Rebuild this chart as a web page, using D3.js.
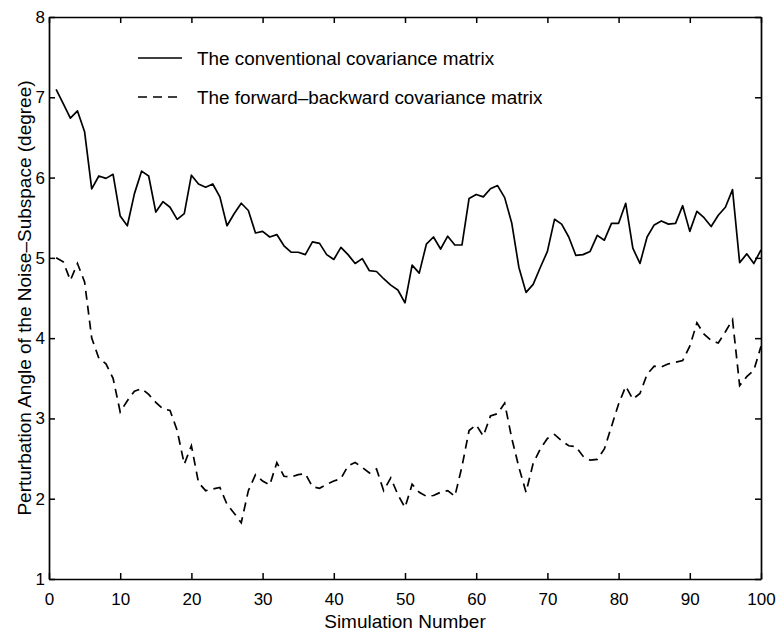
<!DOCTYPE html>
<html>
<head>
<meta charset="utf-8">
<script src="https://cdn.jsdelivr.net/npm/d3@7/dist/d3.min.js"></script>
<style>
  html, body { margin: 0; padding: 0; background: #fff; }
  svg { display: block; }
  text { font-family: "Liberation Sans", Arial, Helvetica, sans-serif; fill: #000; }
</style>
</head>
<body>
<svg id="chart" width="780" height="634"></svg>
<script>
// Simulation index, 1..100
const simulations = d3.range(1, 101);

// Perturbation angle (degrees) with the conventional covariance matrix
const conventional = [
  7.10, 6.92, 6.74, 6.83, 6.57, 5.86, 6.02, 5.99, 6.04, 5.52,
  5.40, 5.80, 6.08, 6.02, 5.57, 5.70, 5.63, 5.48, 5.55, 6.03,
  5.92, 5.88, 5.92, 5.76, 5.40, 5.55, 5.68, 5.59, 5.31, 5.33,
  5.26, 5.29, 5.15, 5.07, 5.07, 5.04, 5.20, 5.18, 5.04, 4.98,
  5.13, 5.04, 4.93, 4.99, 4.84, 4.83, 4.74, 4.66, 4.60, 4.44,
  4.91, 4.81, 5.17, 5.26, 5.11, 5.27, 5.16, 5.16, 5.74, 5.79,
  5.76, 5.86, 5.90, 5.75, 5.43, 4.88, 4.57, 4.67, 4.88, 5.08,
  5.48, 5.42, 5.26, 5.03, 5.04, 5.08, 5.28, 5.22, 5.43, 5.43,
  5.68, 5.12, 4.93, 5.26, 5.41, 5.46, 5.42, 5.43, 5.65, 5.33,
  5.58, 5.50, 5.39, 5.53, 5.63, 5.85, 4.94, 5.05, 4.93, 5.10
];

// Perturbation angle (degrees) with the forward-backward covariance matrix
const forwardBackward = [
  5.00, 4.95, 4.72, 4.93, 4.70, 4.00, 3.75, 3.68, 3.50, 3.08,
  3.22, 3.34, 3.37, 3.30, 3.20, 3.12, 3.10, 2.85, 2.43, 2.66,
  2.20, 2.10, 2.12, 2.14, 1.93, 1.82, 1.70, 2.10, 2.30, 2.22,
  2.17, 2.45, 2.28, 2.27, 2.30, 2.31, 2.15, 2.13, 2.18, 2.22,
  2.25, 2.41, 2.45, 2.39, 2.32, 2.37, 2.10, 2.26, 2.05, 1.89,
  2.18, 2.08, 2.03, 2.04, 2.08, 2.10, 2.03, 2.40, 2.85, 2.92,
  2.78, 3.03, 3.06, 3.19, 2.75, 2.39, 2.08, 2.44, 2.62, 2.75,
  2.80, 2.72, 2.66, 2.65, 2.53, 2.48, 2.49, 2.62, 2.90, 3.18,
  3.40, 3.24, 3.31, 3.55, 3.65, 3.64, 3.68, 3.70, 3.72, 3.90,
  4.19, 4.05, 3.97, 3.94, 4.08, 4.23, 3.41, 3.52, 3.60, 3.90
];

const xTicks = d3.range(0, 101, 10);
const yTicks = d3.range(1, 9, 1);

const seriesNames = [
  "The conventional covariance matrix",
  "The forward\u2013backward covariance matrix"
];

const xTitle = "Simulation Number";
const yTitle = "Perturbation Angle of the Noise\u2013Subspace (degree)";

// ---- layout ----
const plot = { left: 49, right: 761, top: 17, bottom: 579 };
const svg = d3.select("#chart");

svg.append("rect").attr("width", 780).attr("height", 634).attr("fill", "#fff");

const x = d3.scaleLinear().domain([0, 100]).range([plot.left, plot.right]);
const y = d3.scaleLinear().domain([1, 8]).range([plot.bottom, plot.top]);

const tickLen = 6;
const tickFont = 17;
const titleFont = 19;

// bottom axis with labels, ticks pointing inward
const gBottom = svg.append("g")
  .attr("transform", `translate(0,${plot.bottom})`)
  .call(d3.axisBottom(x).tickValues(xTicks).tickSizeInner(-tickLen).tickSizeOuter(0).tickPadding(14).tickFormat(d3.format("d")));

// top axis, ticks only
const gTop = svg.append("g")
  .attr("transform", `translate(0,${plot.top})`)
  .call(d3.axisTop(x).tickValues(xTicks).tickSizeInner(-tickLen).tickSizeOuter(0).tickFormat(""));

// left axis with labels
const gLeft = svg.append("g")
  .attr("transform", `translate(${plot.left},0)`)
  .call(d3.axisLeft(y).tickValues(yTicks).tickSizeInner(-tickLen).tickSizeOuter(0).tickPadding(4).tickFormat(d3.format("d")));

// right axis, ticks only
const gRight = svg.append("g")
  .attr("transform", `translate(${plot.right},0)`)
  .call(d3.axisRight(y).tickValues(yTicks).tickSizeInner(-tickLen).tickSizeOuter(0).tickFormat(""));

[gBottom, gTop, gLeft, gRight].forEach(g => {
  g.selectAll(".domain").attr("stroke", "#000").attr("stroke-width", 1.7);
  g.selectAll(".tick line").attr("stroke", "#000").attr("stroke-width", 1.5);
  g.selectAll(".tick text")
    .attr("font-family", "Liberation Sans, Arial, Helvetica, sans-serif")
    .attr("font-size", tickFont)
    .attr("fill", "#000");
});

// axis titles
svg.append("text")
  .attr("x", (plot.left + plot.right) / 2)
  .attr("y", 628)
  .attr("text-anchor", "middle")
  .attr("font-size", titleFont)
  .text(xTitle);

svg.append("text")
  .attr("transform", `translate(31,${(plot.top + plot.bottom) / 2}) rotate(-90)`)
  .attr("text-anchor", "middle")
  .attr("font-size", titleFont)
  .text(yTitle);

// ---- data lines ----
const line = d3.line()
  .x((d, i) => x(simulations[i]))
  .y(d => y(d));

svg.append("path")
  .datum(conventional)
  .attr("d", line)
  .attr("fill", "none")
  .attr("stroke", "#000")
  .attr("stroke-width", 1.7)
  .attr("stroke-linejoin", "round");

const dash = "9,6";
svg.append("path")
  .datum(forwardBackward)
  .attr("d", line)
  .attr("fill", "none")
  .attr("stroke", "#000")
  .attr("stroke-width", 1.7)
  .attr("stroke-dasharray", dash);

// ---- legend ----
const legend = svg.append("g").attr("transform", "translate(138,0)");
const legendRows = [
  { name: seriesNames[0], y: 58, dash: null },
  { name: seriesNames[1], y: 97, dash: dash }
];
legendRows.forEach(r => {
  legend.append("line")
    .attr("x1", 0).attr("x2", 44)
    .attr("y1", r.y).attr("y2", r.y)
    .attr("stroke", "#000")
    .attr("stroke-width", 1.7)
    .attr("stroke-dasharray", r.dash);
  legend.append("text")
    .attr("x", 59)
    .attr("y", r.y + 6.5)
    .attr("font-size", 18.9)
    .text(r.name);
});
</script>
</body>
</html>
